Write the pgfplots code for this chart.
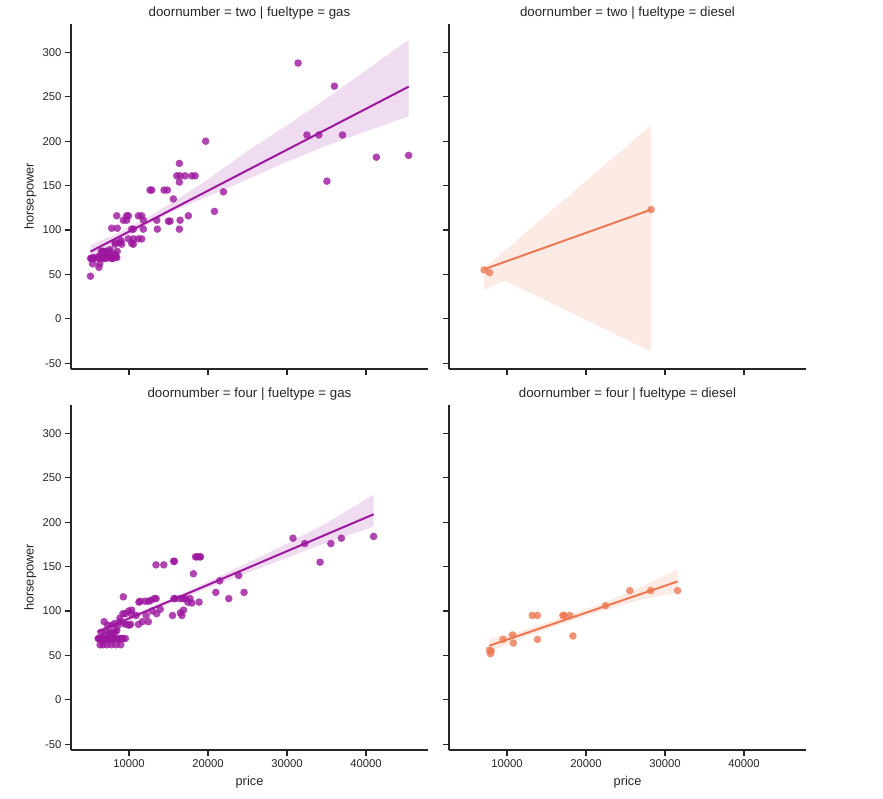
\documentclass[border=0pt]{standalone}
\usepackage{pgfplots}
\pgfplotsset{compat=1.18}
\usepackage{fontspec}
\setmainfont{Liberation Sans}
\definecolor{purp}{HTML}{9C179E}
\definecolor{orng}{HTML}{ED7953}
\definecolor{txt}{HTML}{262626}

\pgfplotsset{
 facet/.style={
   scale only axis, width=357pt, height=345pt,
   xmin=2655, xmax=47850, ymin=-56.5, ymax=332,
   axis x line*=bottom, axis y line*=left,
   axis line style={-, txt, line width=1.2pt},
   every outer x axis line/.append style={-},
   every outer y axis line/.append style={-},
   tick style={txt, line width=1.2pt},
   tick align=outside, major tick length=6pt,
   xtick={10000,20000,30000,40000}, ytick={-50,0,50,100,150,200,250,300},
   scaled ticks=false,
   /pgf/number format/1000 sep={},
   /pgf/number format/assume math mode=true,
   tick label style={font=\fontsize{11.3}{13}\selectfont, text=txt},
   every axis title/.style={at={(axis description cs:0.5,1.0217)}, anchor=base, font=\fontsize{13.3}{15}\selectfont, text=txt},
   every axis x label/.style={at={(axis description cs:0.5,-0.1015)}, anchor=base, font=\fontsize{12.8}{14}\selectfont, text=txt},
   every axis y label/.style={at={(axis description cs:-0.105,0.5)}, rotate=90, anchor=base, font=\fontsize{12.8}{14}\selectfont, text=txt},
 },
 pts/.style={only marks, color=#1, mark=*, mark size=3.8pt, mark options={fill=#1, draw opacity=0, fill opacity=0.8}},
 fit/.style={draw=#1, line width=2pt, no marks},
 band/.style={draw=none, fill=#1, fill opacity=0.15, no marks},
}

\begin{document}
\begin{tikzpicture}[x=1pt,y=1pt]
\useasboundingbox (0,0) rectangle (883,798);

% ---------- top-left: two / gas ----------
\begin{axis}[facet, at={(71pt,429pt)}, anchor=south west,
  title={doornumber = two | fueltype = gas}, ylabel={horsepower}, xticklabels={}]
\addplot[band=purp] coordinates {(5118,83)(8000,94)(12000,112)(16000,134)(20000,157)(25000,189)(30000,218)(35000,248)(40000,280)(45400,314)
 (45400,228)(40000,211)(35000,195)(30000,177)(25000,157)(20000,138)(16000,123)(12000,104)(8000,85)(5118,69)};
\addplot[pts=purp] coordinates {
(5118,48)(5151,68)(5195,68)(5389,62)(5399,68)(5499,69)(5572,68)(6095,70)(6189,58)(6229,68)
(6295,62)(6338,70)(6377,69)(6488,76)(6529,70)(6575,73)(6649,70)(6669,76)(6692,76)(6795,68)
(6855,69)(6918,70)(7053,68)(7099,76)(7129,76)(7299,70)(7395,69)(7499,76)(7603,78)(7689,73)
(7738,70)(7775,68)(7799,70)(7957,68)(8058,70)(8238,73)(8358,70)(8449,69)(8499,76)
(7807,102)(8517,102)(8226,86)(8859,86)(8249,84)(9000,88)(9068,84)(9916,90)(10545,90)(11184,90)(11606,90)
(10545,84)(10345,85)(9282,111)(9705,111)(11817,111)(13511,111)(14985,110)(15196,110)(16464,111)
(8441,116)(9705,116)(9916,116)(11184,116)(11606,116)(17516,116)
(10339,101)(10545,101)(11812,101)(13587,101)(16375,101)
(20815,121)(15615,135)(21952,143)(12661,145)(12877,145)(14436,145)(14854,145)(16375,154)
(16046,161)(16464,161)(17098,161)(17947,161)(18365,161)(16375,175)(19699,200)
(31400,288)(32528,207)(34028,207)(35056,155)(36000,262)(37028,207)(41315,182)(45400,184)};
\addplot[fit=purp] coordinates {(5118,75.7)(45400,261.4)};
\end{axis}

% ---------- top-right: two / diesel ----------
\begin{axis}[facet, at={(449pt,429pt)}, anchor=south west,
  title={doornumber = two | fueltype = diesel}, xticklabels={}, yticklabels={}]
\addplot[band=orng] coordinates {(7099,57)(28248,218)(28248,-37)(9783,43)(7099,32.6)};
\addplot[pts=orng] coordinates {(7099,55)(7788,52)(28248,123)};
\addplot[fit=orng] coordinates {(7099,55.8)(28248,123)};
\end{axis}

% ---------- bottom-left: four / gas ----------
\begin{axis}[facet, at={(71pt,48pt)}, anchor=south west,
  title={doornumber = four | fueltype = gas}, ylabel={horsepower}, xlabel={price}]
\addplot[band=purp] coordinates {(6000,80)(10000,94)(15000,113)(20000,133)(25000,154)(30000,176)(35000,199)(40960,231)
 (40960,195)(35000,177)(30000,160)(25000,143)(20000,126)(15000,108)(10000,89)(6000,72)};
\addplot[pts=purp] coordinates {
(6095,69)(6189,69)(6295,69)(6479,68)(6575,69)(6649,68)(6785,69)(6849,68)(6938,69)(7126,68)
(7295,69)(7349,68)(7463,69)(7609,69)(7738,68)(7898,69)(7975,68)(8189,69)(8495,69)(8778,68)
(8921,69)(9095,69)(9258,69)(9538,69)
(6338,62)(6695,62)(7198,62)(7775,62)(8358,62)(8948,62)
(6488,76)(6918,73)(7126,78)(7603,76)(7689,73)(8013,76)(8238,76)(8449,78)
(6849,88)(7295,84)(7788,84)(8195,86)(8499,82)(8845,88)(9279,86)(9639,85)(9989,84)(10198,85)
(11199,85)(11694,88)(12440,88)
(8845,92)(9233,97)(9549,97)(9959,100)(10295,97)(10898,95)(12170,95)(12945,100)(13499,97)
(10345,101)(13950,102)
(9279,116)(11394,111)(12028,111)(12446,111)(12764,112)(13200,114)(13432,114)(15690,114)(15830,114)
(16463,114)(16845,114)(17100,114)(17450,110)(17730,114)(17950,109)(18870,110)(11259,110)
(20989,121)(24565,121)(22625,114)(21485,134)(23875,140)(18150,142)
(13415,152)(14399,152)(15645,156)(15750,156)(18420,161)(18620,161)(18950,161)(19045,161)
(15510,95)(16695,95)(16900,101)(16500,98)
(30760,182)(32250,176)(34184,155)(35550,176)(36880,182)(40960,184)};
\addplot[fit=purp] coordinates {(6000,76.5)(40960,208.9)};
\end{axis}

% ---------- bottom-right: four / diesel ----------
\begin{axis}[facet, at={(449pt,48pt)}, anchor=south west,
  title={doornumber = four | fueltype = diesel}, xlabel={price}, yticklabels={}]
\addplot[band=orng] coordinates {(7775,68.5)(12000,78)(17000,93)(22000,108.5)(27000,127)(31600,147)
 (31600,121)(27000,113)(22000,100)(17000,85.5)(12000,70)(7775,53.5)};
\addplot[pts=orng] coordinates {
(7775,56)(7898,52)(7995,55)(9495,68)(10698,73)(10795,64)(13200,95)(13845,95)(13860,68)
(17075,95)(17200,95)(17950,95)(18344,72)(22470,106)(25552,123)(28176,123)(31600,123)};
\addplot[fit=orng] coordinates {(7775,61)(31600,133.3)};
\end{axis}
\end{tikzpicture}
\end{document}
